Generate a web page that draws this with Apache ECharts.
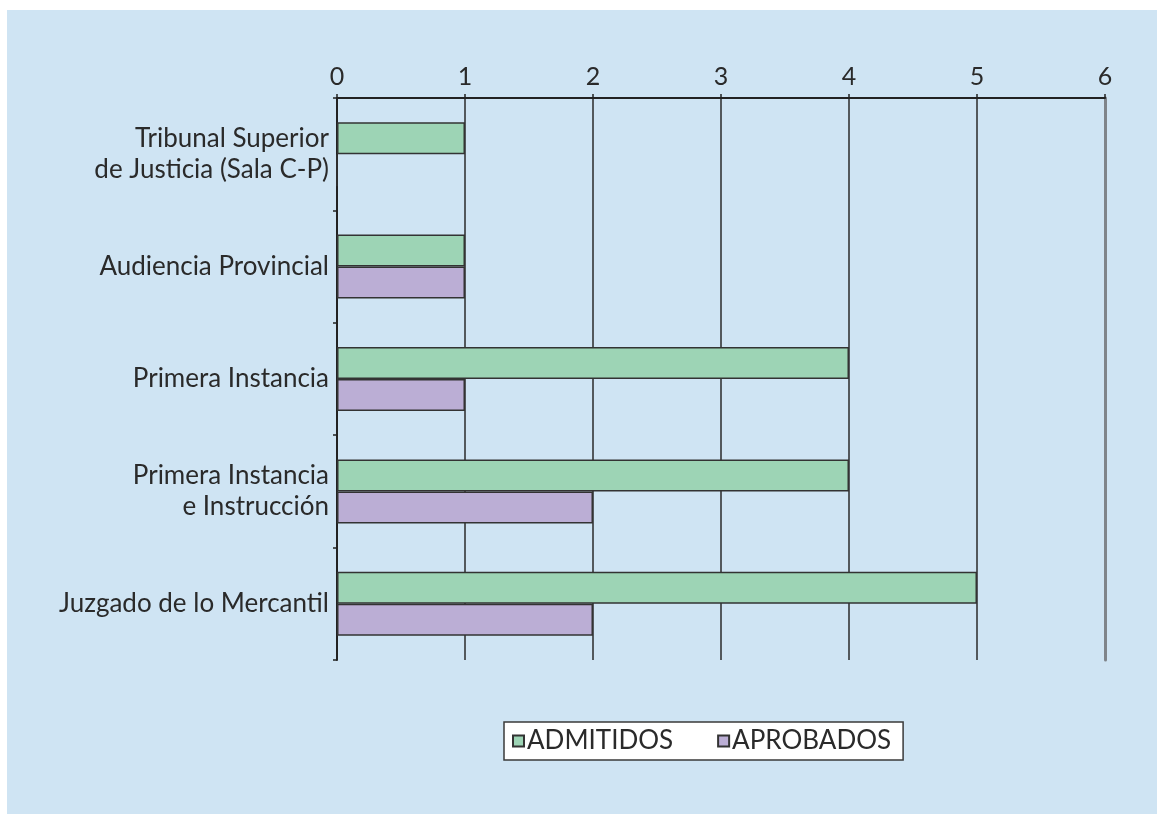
<!DOCTYPE html>
<html>
<head>
<meta charset="utf-8">
<script src="https://cdn.jsdelivr.net/npm/echarts@6/dist/echarts.min.js"></script>
<style>
html,body{margin:0;padding:0;background:#fff;}
#c{width:1157px;height:814px;}
</style>
</head>
<body>
<div id="c"></div>
<script>
var categories = ['Tribunal Superior\nde Justicia (Sala C-P)', 'Audiencia Provincial', 'Primera Instancia', 'Primera Instancia\ne Instrucción', 'Juzgado de lo Mercantil'];
var admitidos = [1, 1, 4, 4, 5];
var aprobados = [0, 1, 1, 2, 2];
var xTicks = [0, 1, 2, 3, 4, 5, 6];

var FONT = 'Lato';
var FS = 26;
var chart = echarts.init(document.getElementById('c'), null, {renderer: 'canvas'});
chart.setOption({
  backgroundColor: '#ffffff',
  animation: false,
  textStyle: {fontFamily: FONT},
  graphic: [{
    type: 'rect', z: -100, silent: true,
    shape: {x: 7, y: 10, width: 1150, height: 804},
    style: {fill: '#cfe4f3'}
  }],
  grid: {left: 337, top: 98, width: 768, height: 562, containLabel: false},
  xAxis: {
    type: 'value', position: 'top', min: xTicks[0], max: xTicks[xTicks.length - 1], interval: 1,
    axisLine: {show: true, lineStyle: {color: '#222', width: 2}},
    axisTick: {show: true, length: 4, lineStyle: {color: '#222', width: 1.5}},
    axisLabel: {fontSize: 25, color: '#2a2a2a', margin: 9, fontFamily: FONT},
    splitLine: {show: true, lineStyle: {color: ['#2a2a2a', '#2a2a2a', '#2a2a2a', '#2a2a2a', '#2a2a2a', '#2a2a2a', 'rgba(0,0,0,0)'], width: 1.5}}
  },
  yAxis: [{
    type: 'category', data: categories, inverse: true,
    axisLine: {show: true, lineStyle: {color: '#222', width: 2}},
    axisTick: {show: true, length: 4, lineStyle: {color: '#222', width: 1.5}},
    axisLabel: {fontSize: FS, color: '#2a2a2a', margin: 8, lineHeight: 31, align: 'right', fontFamily: FONT},
    splitLine: {show: false}
  }, {
    type: 'category', data: categories, inverse: true, position: 'right',
    axisLine: {show: true, lineStyle: {color: '#7f848a', width: 3}},
    axisTick: {show: false}, axisLabel: {show: false}, splitLine: {show: false}
  }],
  legend: {
    left: 504, top: 722, orient: 'horizontal',
    backgroundColor: '#ffffff', borderColor: '#3a3a3a', borderWidth: 1.5,
    padding: [6, 12, 6, 8], itemGap: 44, itemWidth: 11, itemHeight: 11, icon: 'rect',
    textStyle: {fontSize: FS, color: '#2a2a2a', fontFamily: FONT, padding: [0, 0, 0, -2]},
    data: ['ADMITIDOS', 'APROBADOS']
  },
  series: [{
    name: 'ADMITIDOS', type: 'bar', data: admitidos, barWidth: 32, barGap: '0%',
    itemStyle: {color: '#9dd4b5', borderColor: '#333', borderWidth: 1.5}
  }, {
    name: 'APROBADOS', type: 'bar', data: aprobados, barWidth: 32, barGap: '0%',
    itemStyle: {color: '#bbaed5', borderColor: '#333', borderWidth: 1.5}
  }]
});
</script>
</body>
</html>
